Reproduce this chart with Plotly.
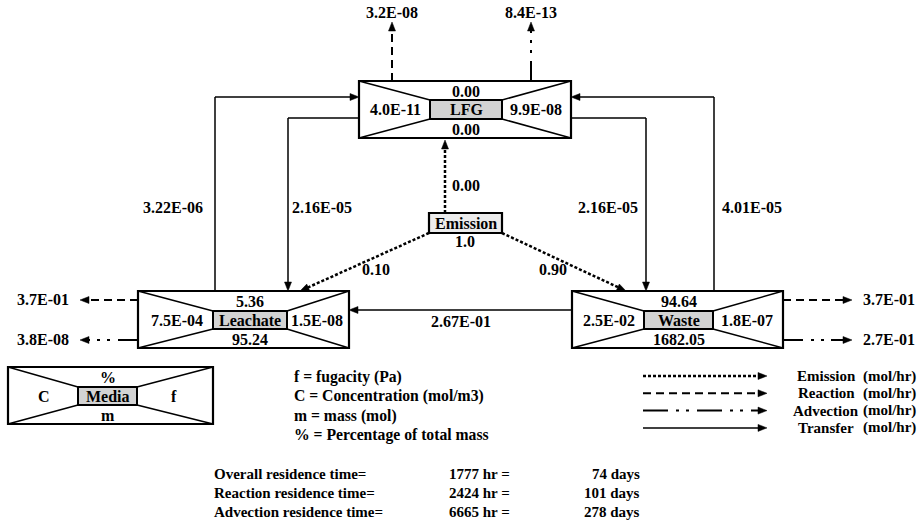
import plotly.graph_objects as go

# ---------------- data ----------------
media_names = ["LFG", "Leachate", "Waste"]
media_pct = ["0.00", "5.36", "94.64"]          # % of total mass
media_mass = ["0.00", "95.24", "1682.05"]      # m (mol)
media_conc = ["4.0E-11", "7.5E-04", "2.5E-02"]  # C (mol/m3)
media_fug = ["9.9E-08", "1.5E-08", "1.8E-07"]   # f (Pa)

reaction_rates = ["3.2E-08", "3.7E-01", "3.7E-01"]   # LFG, Leachate, Waste
advection_rates = ["8.4E-13", "3.8E-08", "2.7E-01"]  # LFG, Leachate, Waste

transfer_labels = ["3.22E-06", "2.16E-05", "2.16E-05", "4.01E-05", "2.67E-01"]
# leachate->LFG, LFG->leachate, LFG->waste, waste->LFG, waste->leachate
emission_total = "1.0"
emission_split = ["0.00", "0.10", "0.90"]  # to LFG, Leachate, Waste

legend_defs = ["f = fugacity (Pa)", "C = Concentration (mol/m3)",
               "m = mass (mol)", "% = Percentage of total mass"]
legend_kinds = ["Emission", "Reaction", "Advection", "Transfer"]
legend_unit = "(mol/hr)"

res_labels = ["Overall residence time=", "Reaction residence time=",
              "Advection residence time="]
res_hours = [1777, 2424, 6665]
res_days = [74, 101, 278]

# ---------------- drawing helpers ----------------
FONT = "Liberation Serif"
FS = 16
shapes = []
annots = []

DOT = "3px,2px"
DASH = "8px,5px"
ADV = "20px,8px,3px,7px,3px,7px"


def text(x, y, s, anchor="center", size=FS):
    annots.append(dict(x=x, y=y, xref="x", yref="y", text="<b>%s</b>" % s,
                       showarrow=False, xanchor=anchor, yanchor="middle",
                       font=dict(family=FONT, size=size, color="black")))


def line(x0, y0, x1, y1, dash="solid", w=1.5):
    shapes.append(dict(type="line", x0=x0, y0=y0, x1=x1, y1=y1, xref="x", yref="y",
                       line=dict(color="black", width=w, dash=dash)))


def head(tx, ty, dx, dy, L=9, W=3.5):
    n = (dx * dx + dy * dy) ** 0.5
    ux, uy = dx / n, dy / n
    px, py = -uy, ux
    bx, by = tx - ux * L, ty - uy * L
    p = "M %.2f %.2f L %.2f %.2f L %.2f %.2f Z" % (
        tx, ty, bx + px * W, by + py * W, bx - px * W, by - py * W)
    shapes.append(dict(type="path", path=p, xref="x", yref="y",
                       fillcolor="black", line=dict(color="black", width=0.5)))


def arrow(x0, y0, x1, y1, dash="solid", w=1.5):
    dx, dy = x1 - x0, y1 - y0
    n = (dx * dx + dy * dy) ** 0.5
    ex, ey = x1 - dx / n * 7, y1 - dy / n * 7
    line(x0, y0, ex, ey, dash, w)
    head(x1, y1, dx, dy)


def media_box(x0, y0, x1, y1, ix0, iy0, ix1, iy1, name, top, bottom, left, right):
    # bow-tie diagonals
    line(x0, y0, ix0, iy0, w=1.5)
    line(x0, y1, ix0, iy1, w=1.5)
    line(x1, y0, ix1, iy0, w=1.5)
    line(x1, y1, ix1, iy1, w=1.5)
    shapes.append(dict(type="rect", x0=x0, y0=y0, x1=x1, y1=y1, xref="x", yref="y",
                       line=dict(color="black", width=2.2)))
    shapes.append(dict(type="rect", x0=ix0, y0=iy0, x1=ix1, y1=iy1, xref="x", yref="y",
                       fillcolor="#d3d3d3", line=dict(color="black", width=2)))
    cx = (ix0 + ix1) / 2
    cy = (iy0 + iy1) / 2
    text(cx, cy, name)
    text(cx, (y0 + iy0) / 2 + 0.5, top)
    text(cx, (y1 + iy1) / 2 + 0.5, bottom)
    text((x0 + ix0) / 2 + 1, cy, left)
    text((x1 + ix1) / 2 - 1, cy, right)


# ---------------- media boxes ----------------
# LFG
media_box(359, 81, 571, 138, 430, 100, 502, 119,
          media_names[0], media_pct[0], media_mass[0], media_conc[0], media_fug[0])
# Leachate
media_box(138, 291, 349, 348, 213, 311, 287, 329,
          media_names[1], media_pct[1], media_mass[1], media_conc[1], media_fug[1])
# Waste
media_box(572, 291, 783, 348, 644, 311, 713, 329,
          media_names[2], media_pct[2], media_mass[2], media_conc[2], media_fug[2])
# Legend media box
media_box(8, 367, 213, 424, 78, 387, 137, 405, "Media", "%", "m", "C", "f")

# ---------------- emission box ----------------
shapes.append(dict(type="rect", x0=429, y0=213, x1=502, y1=233, xref="x", yref="y",
                   fillcolor="#ececec", line=dict(color="black", width=2.2)))
text(465.5, 223, "Emission")
text(465, 241, emission_total)

# emission arrows (dotted)
arrow(445, 213, 445, 140, dash=DOT, w=2.5)
text(466, 185, emission_split[0])
arrow(429, 233, 300, 291, dash=DOT, w=2.5)
text(376, 269, emission_split[1])
arrow(502, 233, 626, 291, dash=DOT, w=2.5)
text(553, 269, emission_split[2])

# ---------------- transfers ----------------
# leachate -> LFG
line(215, 291, 215, 97)
arrow(215, 97, 359, 97)
text(173, 207, transfer_labels[0])
# LFG -> leachate
line(359, 118, 288, 118)
arrow(288, 118, 288, 291)
text(322, 207, transfer_labels[1])
# LFG -> waste
line(571, 118, 646, 118)
arrow(646, 118, 646, 291)
text(608, 207, transfer_labels[2])
# waste -> LFG
line(714, 291, 714, 97)
arrow(714, 97, 571, 97)
text(752, 207, transfer_labels[3])
# waste -> leachate
arrow(572, 310, 349, 310)
text(461, 321, transfer_labels[4])

# ---------------- reaction / advection ----------------
# LFG
arrow(392, 81, 392, 22, dash=DASH, w=2)
text(392, 12, reaction_rates[0])
arrow(531, 81, 531, 22, dash=ADV, w=2)
text(531, 12, advection_rates[0])
# Leachate
arrow(138, 300, 80, 300, dash=DASH, w=2)
text(43, 299, reaction_rates[1])
arrow(138, 340, 80, 340, dash=ADV, w=2)
text(43, 339, advection_rates[1])
# Waste
arrow(783, 300, 852, 300, dash=DASH, w=2)
text(889, 299, reaction_rates[2])
arrow(783, 340, 852, 340, dash=ADV, w=2)
text(889, 339, advection_rates[2])

# ---------------- definitions legend ----------------
for i, s in enumerate(legend_defs):
    text(292, 377 + i * 19.3, s, anchor="left", size=15.7)

# ---------------- line-style legend ----------------
styles = [(DOT, 2.5), (DASH, 2), ("25px,8px,3px,7px,3px,8px", 2), ("solid", 1.5)]
for i, k in enumerate(legend_kinds):
    y = 376 + i * 17.3
    d, w = styles[i]
    arrow(643, y, 767, y, dash=d, w=w)
    text(826, y, k, size=15)
    text(918, y, legend_unit, anchor="right", size=15)

# ---------------- residence times ----------------
for i in range(3):
    y = 474 + i * 19
    text(212, y, res_labels[i], anchor="left", size=15)
    text(447, y, "%d hr =" % res_hours[i], anchor="left", size=15)
    text(642, y, "%d days" % res_days[i], anchor="right", size=15)

fig = go.Figure()
fig.update_layout(
    width=922, height=522,
    margin=dict(l=0, r=0, t=0, b=0),
    paper_bgcolor="white", plot_bgcolor="white",
    xaxis=dict(range=[0, 922], visible=False, fixedrange=True),
    yaxis=dict(range=[522, 0], visible=False, fixedrange=True),
    shapes=shapes, annotations=annots, showlegend=False,
)
fig.write_html("out.html", config={"displayModeBar": False})
